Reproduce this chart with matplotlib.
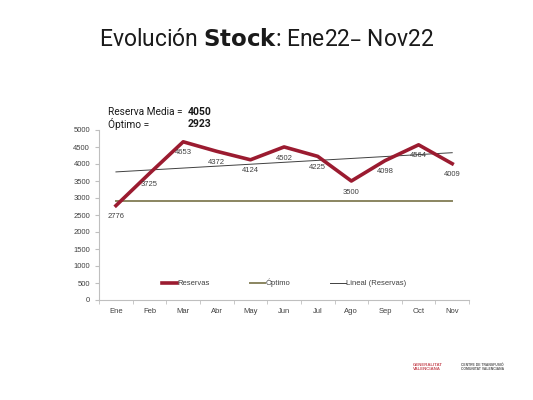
import numpy as np
import matplotlib.pyplot as plt

meses = ['Ene', 'Feb', 'Mar', 'Abr', 'May', 'Jun', 'Jul', 'Ago', 'Sep', 'Oct', 'Nov']
reservas = [2776, 3725, 4653, 4372, 4124, 4502, 4225, 3500, 4098, 4564, 4009]
optimo = 2923

plt.rcParams['font.family'] = ['Liberation Sans', 'DejaVu Sans']

fig = plt.figure(figsize=(5.33, 4.0), dpi=100)
ax = fig.add_axes([0.186, 0.25, 0.694, 0.425])

x = np.arange(len(meses))
media = round(np.mean(reservas))

# lineas
ax.plot(x, reservas, color='#9b1b30', lw=2.6, label='Reservas', zorder=3)
ax.plot(x, [optimo] * len(x), color='#8a8560', lw=1.4, label='Óptimo', zorder=2)
coef = np.polyfit(x, reservas, 1)
ax.plot(x, np.polyval(coef, x), color='#404040', lw=0.7, label='Lineal (Reservas)', zorder=2)

for xi, v in zip(x, reservas):
    ax.annotate(str(v), (xi, v), xytext=(0, -8), textcoords='offset points',
                ha='center', va='center', fontsize=5.5, color='#404040', zorder=4)

ax.set_xlim(-0.5, len(meses) - 0.5)
ax.set_ylim(0, 5000)
ax.set_yticks(np.arange(0, 5001, 500))
ax.set_xticks(x)
ax.set_xticklabels(meses)
ax.set_xticks(np.arange(-0.5, len(meses), 1), minor=True)
ax.tick_params(axis='x', which='major', length=0, pad=6)
ax.tick_params(axis='x', which='minor', length=3, color='#bfbfbf')
ax.tick_params(axis='y', length=3, color='#bfbfbf')
ax.tick_params(labelsize=5.5, labelcolor='#404040')
for s in ['top', 'right']:
    ax.spines[s].set_visible(False)
for s in ['left', 'bottom']:
    ax.spines[s].set_color('#bfbfbf')
    ax.spines[s].set_linewidth(0.8)

leg = ax.legend(loc='center', bbox_to_anchor=(0.5, 0.1), ncol=3, frameon=False,
                fontsize=5.5, handlelength=2.0, handletextpad=0.1, columnspacing=5.2)
for t in leg.get_texts():
    t.set_color('#404040')

# textos
fig.text(0.5, 0.9, 'Evolución $\\bf{Stock}$: Ene22– Nov22', ha='center', va='center',
         fontsize=16.5, family=['Roboto', 'DejaVu Sans'], color='#1a1a1a')
fig.text(0.203, 0.72, 'Reserva Media =', fontsize=7.3, va='center', color='#1a1a1a',
         family=['Roboto', 'DejaVu Sans'])
fig.text(0.352, 0.72, str(media), fontsize=7.5, va='center', weight='bold', color='#1a1a1a',
         family=['Roboto', 'DejaVu Sans'])
fig.text(0.203, 0.69, 'Óptimo =', fontsize=7.3, va='center', color='#1a1a1a',
         family=['Roboto', 'DejaVu Sans'])
fig.text(0.352, 0.69, str(optimo), fontsize=7.5, va='center', weight='bold', color='#1a1a1a',
         family=['Roboto', 'DejaVu Sans'])

# logos
fig.text(0.775, 0.083, 'GENERALITAT\nVALENCIANA', fontsize=3.2, color='#c8505a',
         va='center', ha='left', weight='bold', linespacing=1.0)
fig.text(0.865, 0.083, 'CENTRE DE TRANSFUSIÓ\nCOMUNITAT VALENCIANA', fontsize=2.4,
         color='#555555', va='center', ha='left', weight='bold', linespacing=1.0)

fig.savefig('out.png', dpi=100)
